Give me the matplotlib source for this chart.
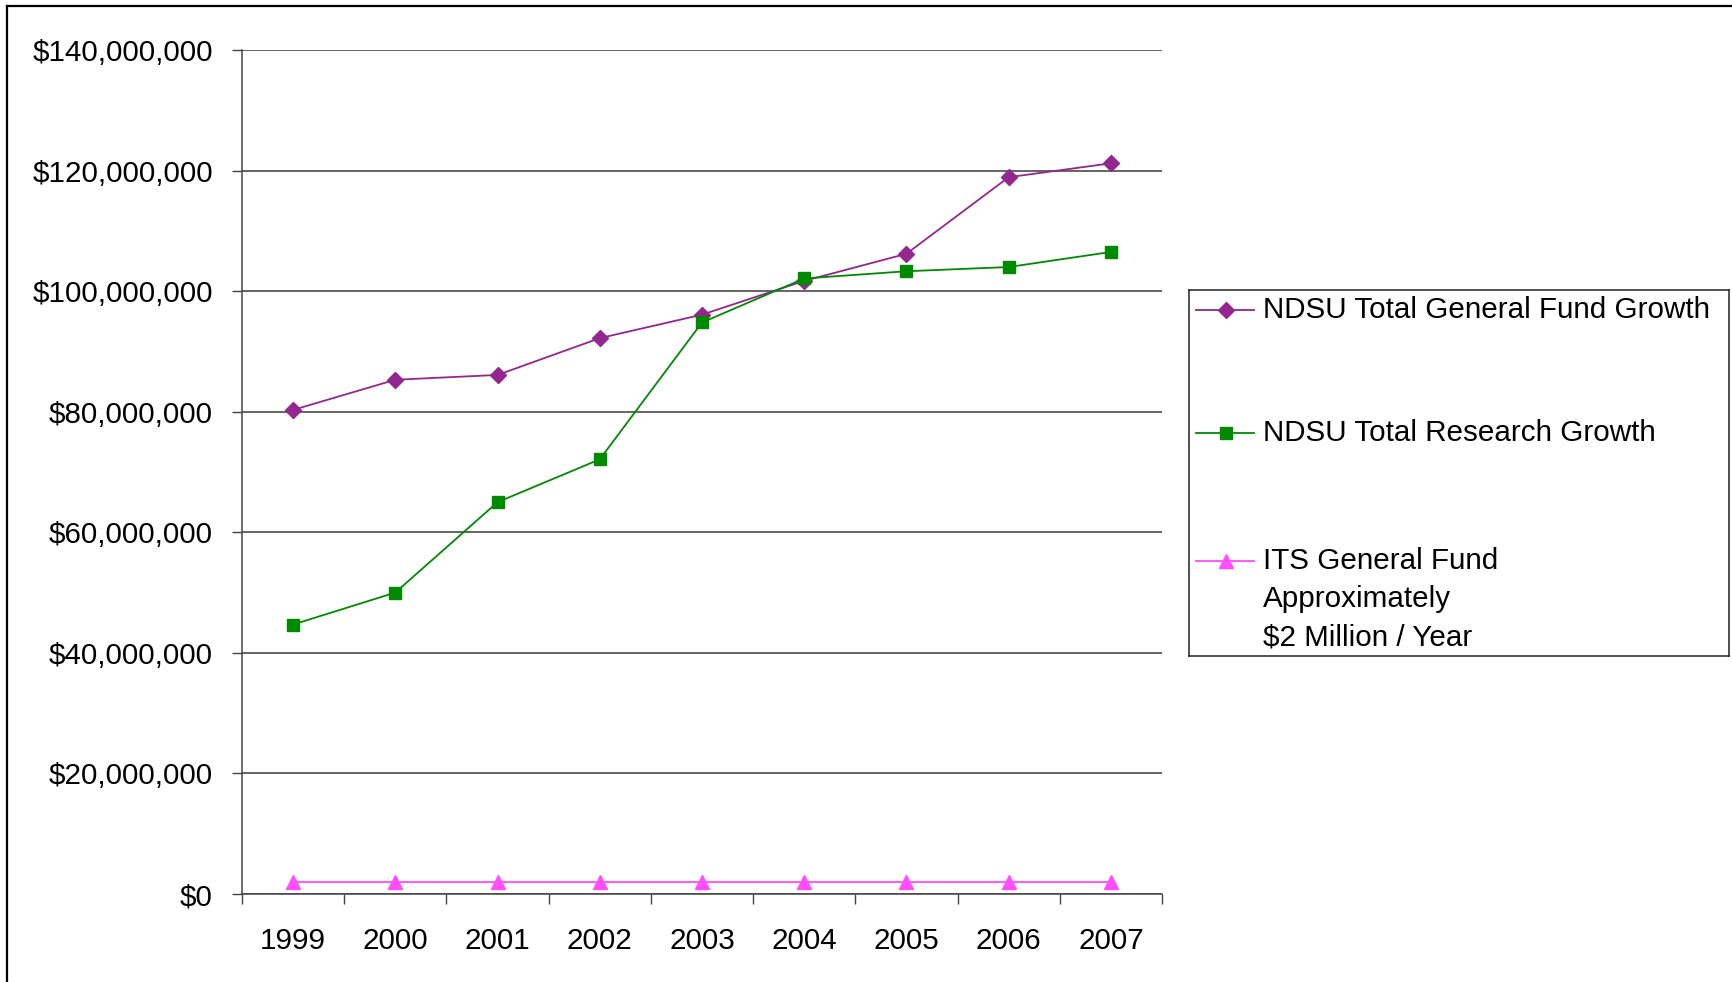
import matplotlib
matplotlib.use('Agg')
import matplotlib.pyplot as plt
from matplotlib.lines import Line2D
from matplotlib.ticker import FuncFormatter, FixedLocator

# Data
years = ['1999', '2000', '2001', '2002', '2003', '2004', '2005', '2006', '2007']
general_fund = [80.3e6, 85.3e6, 86.1e6, 92.2e6, 96.1e6, 101.7e6, 106.2e6, 118.9e6, 121.2e6]
research = [44.7e6, 50.0e6, 65.0e6, 72.1e6, 94.8e6, 102.1e6, 103.3e6, 104.0e6, 106.5e6]
its_fund = [2.0e6, 2.0e6, 2.0e6, 2.0e6, 2.0e6, 2.0e6, 2.0e6, 2.0e6, 2.0e6]

labels = ['NDSU Total General Fund Growth',
          'NDSU Total Research Growth',
          'ITS General Fund\nApproximately\n$2 Million / Year']

PURPLE = '#93268F'
GREEN = '#008A00'
MAGENTA = '#FF4DFF'

W, H = 1733, 982
plt.rcParams['font.family'] = ['Liberation Sans', 'DejaVu Sans']
FS = 21.3

fig = plt.figure(figsize=(W / 100, H / 100), dpi=100)
ax = fig.add_axes([242 / W, 1 - 894 / H, (1162 - 242) / W, (894 - 50) / H])

x = [i + 0.5 for i in range(len(years))]
styles = [
    (general_fund, PURPLE, 'D', 8.5),
    (research, GREEN, 's', 8.5),
    (its_fund, MAGENTA, '^', 9.5),
]
for vals, col, mk, ms in styles:
    ax.plot(x, vals, color=col, lw=1.3, marker=mk, markersize=ms,
            markerfacecolor=col, markeredgecolor=col)

ax.set_xlim(0, len(years))
ax.set_ylim(0, 140e6)
ax.set_yticks([i * 20e6 for i in range(8)])
ax.yaxis.set_major_formatter(FuncFormatter(lambda v, p: '${:,.0f}'.format(v)))
ax.xaxis.set_major_locator(FixedLocator(list(range(len(years) + 1))))
ax.xaxis.set_minor_locator(FixedLocator(x))
ax.set_xticklabels([], minor=False)
ax.set_xticklabels(years, minor=True)

ax.tick_params(axis='x', which='major', length=7, width=1, color='#444444')
ax.tick_params(axis='x', which='minor', length=0, pad=24, labelsize=FS)
ax.tick_params(axis='y', length=7, width=1, color='#444444', pad=14, labelsize=FS)

ax.grid(axis='y', color='#3a3a3a', lw=1.1)
ax.set_axisbelow(True)
for s in ['top', 'right']:
    ax.spines[s].set_visible(False)
for s in ['left', 'bottom']:
    ax.spines[s].set_color('#444444')
    ax.spines[s].set_linewidth(1.1)

# legend box (manual so the handle lines up with the first text line)
lx0, ly0, lx1, ly1 = 1189, 290, 1729, 656
lax = fig.add_axes([lx0 / W, 1 - ly1 / H, (lx1 - lx0) / W, (ly1 - ly0) / H])
lax.set_xlim(0, lx1 - lx0)
lax.set_ylim(ly1 - ly0, 0)
lax.set_xticks([])
lax.set_yticks([])
for s in lax.spines.values():
    s.set_color('#222222')
    s.set_linewidth(1.1)

entry_y = [310 - ly0, 433 - ly0, 561 - ly0]
for (vals, col, mk, ms), lab, ey in zip(styles, labels, entry_y):
    lax.plot([1196 - lx0, 1254 - lx0], [ey, ey], color=col, lw=1.3)
    lax.plot([1226 - lx0], [ey], marker=mk, markersize=ms, color=col)
    for k, line in enumerate(lab.split('\n')):
        lax.text(1263 - lx0, ey + k * 38, line, fontsize=FS, ha='left', va='center')

# outer border (left and top edges only visible)
fig.add_artist(Line2D([7 / W, 7 / W], [0, 1 - 6 / H], color='black', lw=1.6))
fig.add_artist(Line2D([7 / W, 1], [1 - 6 / H, 1 - 6 / H], color='black', lw=1.6))

fig.savefig('out.png', dpi=100)
plt.close(fig)
